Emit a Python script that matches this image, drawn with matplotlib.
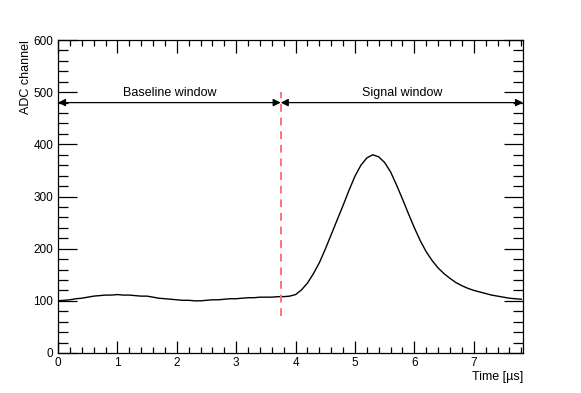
import matplotlib
matplotlib.use("Agg")
import matplotlib.pyplot as plt
from matplotlib.ticker import MultipleLocator

time_us = [round(0.1 * i, 1) for i in range(79)]
adc = [100, 101, 102, 104, 105, 107, 109, 110, 111, 111,
       112, 111, 111, 110, 109, 109, 107, 105, 104, 103,
       102, 101, 101, 100, 100, 101, 102, 102, 103, 104,
       104, 105, 106, 106, 107, 107, 107, 108, 108, 109,
       112, 121, 134, 152, 173, 199, 227, 255, 283, 312,
       339, 360, 374, 380, 376, 365, 347, 322, 295, 267,
       240, 215, 194, 177, 163, 152, 143, 135, 129, 124,
       120, 117, 114, 111, 109, 107, 105, 104, 103]

x_max = 7.83
split_t = 3.75
arrow_y = 480
windows = ["Baseline window", "Signal window"]

plt.rcParams["font.family"] = ["Liberation Sans", "DejaVu Sans"]
plt.rcParams["font.size"] = 9

fig = plt.figure(figsize=(5.81, 3.93), dpi=100)
ax = fig.add_axes([0.0998, 0.1018, 0.8005, 0.7964])

ax.plot(time_us, adc, color="black", lw=1.0)
ax.plot([split_t, split_t], [70, 500], color="#ff7373", lw=1.4, ls=(0, (4, 3)))

for x0, x1, name in [(0, split_t, windows[0]), (split_t, x_max, windows[1])]:
    ax.annotate("", xy=(x0, arrow_y), xytext=(x1, arrow_y),
                arrowprops=dict(arrowstyle="<|-|>", color="black", lw=0.9,
                                mutation_scale=11, shrinkA=0, shrinkB=0))
    ax.text((x0 + x1) / 2, arrow_y + 7, name, ha="center", va="bottom")

ax.set_xlim(0, x_max)
ax.set_ylim(0, 600)
ax.xaxis.set_major_locator(MultipleLocator(1))
ax.xaxis.set_minor_locator(MultipleLocator(0.2))
ax.yaxis.set_major_locator(MultipleLocator(100))
ax.yaxis.set_minor_locator(MultipleLocator(20))
ax.tick_params(which="both", direction="in", top=True, right=True, width=0.9,
               labelsize=8.5)
ax.tick_params(axis="x", which="major", length=9, pad=3)
ax.tick_params(axis="x", which="minor", length=4.5)
ax.tick_params(axis="y", which="major", length=14, pad=3.5)
ax.tick_params(axis="y", which="minor", length=7)
for s in ax.spines.values():
    s.set_linewidth(0.9)

ax.set_xlabel("Time [µs]", loc="right")
ax.xaxis.set_label_coords(1.0, -0.056)
ax.set_ylabel("ADC channel", loc="top")
ax.yaxis.set_label_coords(-0.056, 1.0)

fig.savefig("out.png", dpi=100)
